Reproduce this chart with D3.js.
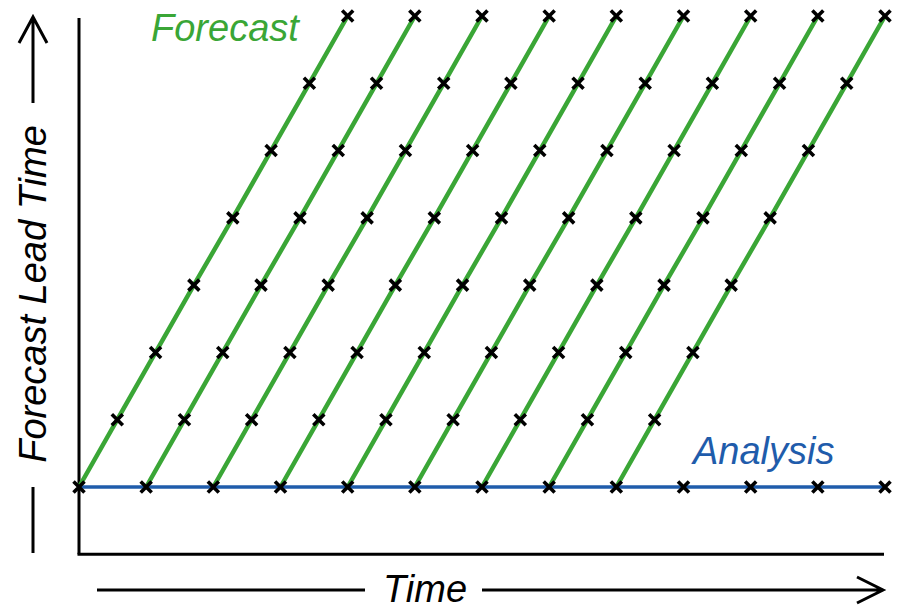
<!DOCTYPE html>
<html>
<head>
<meta charset="utf-8">
<script src="https://cdn.jsdelivr.net/npm/d3@7"></script>
<style>
    html, body { margin: 0; padding: 0; background: #fff; }
    svg { display: block; }
    text { font-family: "Liberation Sans", Arial, sans-serif; font-style: italic; font-size: 38px; }
</style>
</head>
<body>
<svg id="chart" width="900" height="607"></svg>
<script>

/**** Data ****/

// analysis times (one per cycle)
var analysisTimes = [0, 1, 2, 3, 4, 5, 6, 7, 8, 9, 10, 11, 12];

// cycles that launch a forecast
var forecastStarts = [0, 1, 2, 3, 4, 5, 6, 7, 8];

// lead time steps and where each one lands along the time axis (offset from start)
var leadTimes = [0, 1, 2, 3, 4, 5, 6, 7];
var leadOffsets = [0, 0.57, 1.14, 1.71, 2.29, 2.86, 3.43, 4.0];

var labels = {
    forecast: "Forecast",
    analysis: "Analysis",
    xTitle: "Time",
    yTitle: "Forecast Lead Time"
};

var GREEN = "#3aa636";
var BLUE = "#1f5cab";

/**** Scales ****/

var svg = d3.select("#chart");

var x = d3.scaleLinear().domain([0, 12]).range([79, 885]);
var y = d3.scaleLinear().domain([0, 7]).range([487, 16]);

/**** Axes (no ticks, just the frame) ****/

svg.append("line")
    .attr("x1", x(0)).attr("x2", x(0))
    .attr("y1", y(7) + 2).attr("y2", y(-1))
    .attr("stroke", "#000").attr("stroke-width", 3);

svg.append("line")
    .attr("x1", x(0) - 1.5).attr("x2", x(12) - 1)
    .attr("y1", y(-1)).attr("y2", y(-1))
    .attr("stroke", "#000").attr("stroke-width", 3);

/**** Forecast lines ****/

var line = d3.line()
    .x(function(d) { return x(d.t); })
    .y(function(d) { return y(d.lead); });

var forecasts = forecastStarts.map(function(start) {
    return leadTimes.map(function(lead, i) {
        return { t: start + leadOffsets[i], lead: lead };
    });
});

svg.append("g").selectAll("path")
    .data(forecasts)
    .enter().append("path")
    .attr("d", line)
    .attr("fill", "none")
    .attr("stroke", GREEN)
    .attr("stroke-width", 4.5);

/**** Analysis line ****/

var analysis = analysisTimes.map(function(t) { return { t: t, lead: 0 }; });

svg.append("path")
    .datum(analysis)
    .attr("d", line)
    .attr("fill", "none")
    .attr("stroke", BLUE)
    .attr("stroke-width", 3.5);

/**** Markers ****/

var cross = "M-5.5,-5.5L5.5,5.5M-5.5,5.5L5.5,-5.5";
var points = analysis.concat(d3.merge(forecasts.map(function(f) { return f.slice(1); })));

svg.append("g").selectAll("path")
    .data(points)
    .enter().append("path")
    .attr("transform", function(d) { return "translate(" + x(d.t) + "," + y(d.lead) + ")"; })
    .attr("d", cross)
    .attr("stroke", "#000")
    .attr("stroke-width", 3.6);

/**** Labels ****/

svg.append("text")
    .attr("x", 151).attr("y", 41)
    .attr("fill", GREEN)
    .text(labels.forecast);

svg.append("text")
    .attr("x", 693).attr("y", 464)
    .attr("fill", BLUE)
    .text(labels.analysis);

/**** Axis titles with arrows ****/

var arrowY = 590;

svg.append("text")
    .attr("x", 425).attr("y", 602)
    .attr("text-anchor", "middle")
    .attr("fill", "#000")
    .text(labels.xTitle);

svg.append("path")
    .attr("d", "M97," + arrowY + "H365M482," + arrowY + "H883M857," + (arrowY - 13) + "L883," + arrowY + "L857," + (arrowY + 13))
    .attr("fill", "none")
    .attr("stroke", "#000")
    .attr("stroke-width", 3);

var arrowX = 33;

svg.append("text")
    .attr("transform", "translate(46,294) rotate(-90)")
    .attr("text-anchor", "middle")
    .attr("fill", "#000")
    .text(labels.yTitle);

svg.append("path")
    .attr("d", "M" + arrowX + ",553V487M" + arrowX + ",103V17M" + (arrowX - 14) + ",43L" + arrowX + ",17L" + (arrowX + 14) + ",43")
    .attr("fill", "none")
    .attr("stroke", "#000")
    .attr("stroke-width", 3);

</script>
</body>
</html>
